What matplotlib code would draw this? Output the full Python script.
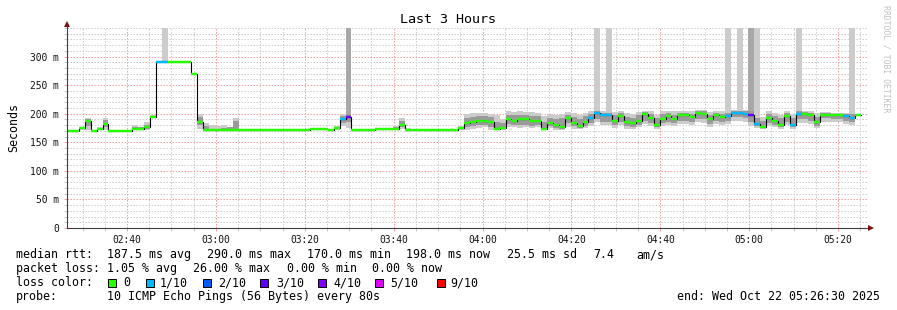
import numpy as np
import matplotlib
matplotlib.use("Agg")
import matplotlib.pyplot as plt
from matplotlib.patches import Rectangle

W, H = 897, 310
FONT = "DejaVu Sans Mono"

# ---------------- data ----------------
start_time = "02:26:30"
end_time = "05:26:30"
step_seconds = 80

nan = float("nan")
median_ms = [
    170, 170, 175, 187, 170, 174, 182, 170, 170, 170,
    170, 173, 174, 176, 195, 290, 290, 290, 290, 290,
    290, 270, 186, 171, 171, 171, 171, 171, 171, 171,
    171, 171, 171, 171, 171, 171, 171, 171, 171, 171,
    171, 174, 174, 174, 172, 175, 191, 194, 171, 171,
    171, 171, 173, 173, 173, 174, 180, 172, 172, 172,
    172, 172, 172, 172, 172, 172, 175, 183, 185, 187,
    188, 185, 174, 175, 190, 188, 190, 190, 188, 187,
    174, 183, 180, 176, 192, 184, 178, 186, 192, 202,
    197, 197, 188, 196, 185, 183, 188, 199, 193, 181,
    191, 196, 190, 198, 198, 194, 201, 200, 190, 198,
    194, 196, 202, 202, 200, 197, 182, 177, 193, 188,
    180, 196, 181, 200, 200, 198, 185, 198, 198, 197,
    197, 196, 192, 198, nan,
]

loss_tenths = [
    0, 0, 0, 0, 0, 0, 0, 0, 0, 0,
    0, 0, 0, 0, 0, 1, 1, 0, 0, 0,
    0, 0, 0, 0, 0, 0, 0, 0, 0, 0,
    0, 0, 0, 0, 0, 0, 0, 0, 0, 0,
    0, 0, 0, 0, 0, 0, 1, 3, 0, 0,
    0, 0, 0, 0, 0, 0, 0, 0, 0, 0,
    0, 0, 0, 0, 0, 0, 0, 0, 0, 0,
    0, 0, 0, 0, 0, 0, 0, 0, 0, 0,
    0, 0, 0, 0, 0, 0, 0, 0, 1, 1,
    1, 1, 0, 0, 0, 0, 0, 0, 0, 0,
    0, 0, 0, 0, 0, 0, 0, 0, 0, 0,
    0, 1, 1, 1, 1, 3, 1, 0, 0, 0,
    0, 0, 1, 1, 0, 0, 0, 0, 0, 0,
    0, 1, 1, 0, 0,
]

smoke_outer_lo = [
    170, 170, 172, 171, 170, 172, 172, 170, 170, 170,
    170, 171, 172, 172, 193, 290, 290, 290, 290, 290,
    290, 270, 174, 171, 171, 171, 171, 171, 171, 171,
    171, 171, 171, 171, 171, 171, 171, 171, 171, 171,
    171, 174, 174, 174, 172, 172, 178, 175, 171, 171,
    171, 171, 173, 173, 173, 172, 174, 171, 172, 172,
    172, 172, 172, 172, 172, 172, 172, 172, 174, 175,
    176, 172, 171, 172, 177, 176, 175, 176, 175, 176,
    172, 175, 172, 172, 176, 174, 173, 175, 178, 185,
    180, 180, 175, 180, 174, 173, 176, 182, 178, 173,
    178, 180, 178, 182, 182, 180, 185, 184, 177, 182,
    180, 182, 188, 188, 186, 178, 175, 173, 178, 176,
    173, 180, 173, 184, 183, 182, 175, 186, 186, 185,
    185, 182, 180, 182, nan,
]

smoke_outer_hi = [
    170, 170, 176, 192, 170, 176, 192, 170, 170, 170,
    170, 180, 177, 185, 197, 290, 400, 290, 290, 290,
    290, 270, 200, 183, 180, 179, 180, 177, 192, 171,
    171, 171, 171, 171, 171, 171, 171, 171, 171, 171,
    171, 174, 174, 174, 172, 178, 199, 400, 171, 171,
    171, 171, 173, 173, 173, 178, 193, 175, 172, 172,
    172, 172, 172, 172, 172, 172, 179, 200, 202, 202,
    202, 200, 198, 190, 204, 203, 204, 203, 203, 202,
    196, 200, 198, 200, 203, 202, 198, 202, 205, 400,
    205, 400, 203, 205, 202, 200, 203, 205, 204, 198,
    204, 205, 204, 205, 205, 204, 206, 206, 203, 205,
    204, 400, 206, 400, 206, 400, 400, 195, 204, 202,
    198, 205, 200, 400, 205, 205, 202, 203, 203, 202,
    202, 202, 400, 204, nan,
]

smoke_inner_lo = [
    170, 170, 174, 178, 170, 173, 176, 170, 170, 170,
    170, 172, 173, 174, 194, 290, 290, 290, 290, 290,
    290, 270, 180, 171, 171, 171, 171, 171, 172, 171,
    171, 171, 171, 171, 171, 171, 171, 171, 171, 171,
    171, 174, 174, 174, 172, 174, 183, 186, 171, 171,
    171, 171, 173, 173, 173, 173, 176, 171, 172, 172,
    172, 172, 172, 172, 172, 172, 173, 176, 178, 180,
    181, 177, 172, 173, 182, 180, 181, 180, 179, 180,
    173, 178, 175, 174, 183, 178, 175, 179, 184, 190,
    186, 186, 180, 186, 178, 176, 180, 188, 184, 176,
    183, 186, 183, 188, 188, 186, 190, 190, 182, 188,
    186, 188, 194, 194, 192, 185, 178, 175, 184, 180,
    176, 186, 176, 190, 190, 188, 179, 192, 192, 191,
    191, 188, 185, 188, nan,
]

smoke_inner_hi = [
    170, 170, 175, 190, 170, 175, 189, 170, 170, 170,
    170, 176, 176, 181, 196, 290, 290, 290, 290, 290,
    290, 270, 195, 179, 174, 173, 175, 176, 188, 171,
    171, 171, 171, 171, 171, 171, 171, 171, 171, 171,
    171, 174, 174, 174, 172, 177, 196, 200, 171, 171,
    171, 171, 173, 173, 173, 176, 187, 173, 172, 172,
    172, 172, 172, 172, 172, 172, 177, 192, 194, 196,
    196, 194, 186, 183, 198, 197, 198, 197, 196, 196,
    186, 192, 190, 192, 198, 195, 190, 196, 200, 205,
    201, 202, 197, 201, 195, 193, 197, 203, 200, 192,
    199, 201, 198, 202, 202, 200, 204, 204, 198, 202,
    200, 202, 205, 205, 204, 204, 192, 188, 200, 196,
    192, 201, 192, 204, 203, 202, 195, 201, 201, 200,
    200, 200, 199, 202, nan,
]

# steps where most pings were far above the graph (denser smoke spike)
dense_spike_steps = [47, 115]

x_tick_labels = ["02:40", "03:00", "03:20", "03:40", "04:00",
                 "04:20", "04:40", "05:00", "05:20"]
y_ticks = [0, 50, 100, 150, 200, 250, 300]
y_tick_labels = ["0", "50 m", "100 m", "150 m", "200 m", "250 m", "300 m"]

loss_labels = ["0", "1/10", "2/10", "3/10", "4/10", "5/10", "9/10"]
loss_level_min = [0, 1, 2, 3, 4, 5, 9]
loss_colors = ["#26ff00", "#00b8ff", "#0059ff", "#5e00ff",
               "#7e00ff", "#dd00ff", "#ff0000"]

title = "Last 3 Hours"
y_label = "Seconds"
rtt_stats = ["187.5 ms avg", "290.0 ms max", "170.0 ms min",
             "198.0 ms now", "25.5 ms sd", "7.4", "am/s"]
loss_stats = ["1.05 % avg", "26.00 % max", "0.00 % min", "0.00 % now"]
probe_text = "10 ICMP Echo Pings (56 Bytes) every 80s"
end_text = "end: Wed Oct 22 05:26:30 2025"
watermark = "RRDTOOL / TOBI OETIKER"

# ---------------- helpers ----------------
def tsec(s):
    h, m, sec = (int(v) for v in s.split(":"))
    return h * 3600 + m * 60 + sec

t0, t1 = tsec(start_time), tsec(end_time)
med = np.array(median_ms, dtype=float)
n = len(med)
edges = t0 + np.arange(n + 1) * step_seconds

def ext(a):
    a = np.asarray(a, dtype=float)
    return np.append(a, a[-1])

def loss_color(l):
    c = loss_colors[0]
    for lv, col in zip(loss_level_min, loss_colors):
        if l >= lv:
            c = col
    return c

# ---------------- figure ----------------
fig = plt.figure(figsize=(W / 100, H / 100), dpi=100)
fig.patch.set_facecolor("white")
ax_l, ax_b, ax_w, ax_h = 67, 228, 800, 200
ax = fig.add_axes([ax_l / W, 1 - ax_b / H, ax_w / W, ax_h / H])
ax.set_xlim(t0, t1)
ax.set_ylim(0, 350)
for sp in ax.spines.values():
    sp.set_visible(False)

# grid
minor_x = np.arange(tsec("02:30:00"), t1 + 1, 300)
major_x = np.array([tsec(s + ":00") for s in x_tick_labels])
ax.set_xticks(major_x)
ax.set_xticklabels(x_tick_labels, fontfamily=FONT, fontsize=6.9)
ax.set_xticks(minor_x, minor=True)
ax.set_yticks(y_ticks)
ax.set_yticklabels(y_tick_labels, fontfamily=FONT, fontsize=6.9)
ax.set_yticks(np.arange(0, 351, 10), minor=True)
dash = (0, (1.5, 1.5))
ax.grid(which="minor", color="#cfcfcf", lw=0.72, linestyle=dash)
ax.grid(which="major", color="#f2a0a0", lw=0.72, linestyle=dash)
ax.set_axisbelow(True)
ax.tick_params(which="major", length=2, width=0.72, color="#f2a0a0", pad=3.2,
               labelcolor="#111111")
ax.tick_params(which="minor", length=2, width=0.72, color="#c8c8c8")
ax.tick_params(axis="y", which="major", pad=4.0)

# smoke
ax.fill_between(edges, ext(smoke_outer_lo), ext(smoke_outer_hi), step="post",
                color="#cccccc", lw=0, zorder=2)
for s in dense_spike_steps:
    ax.fill_between([edges[s], edges[s + 1]], med[s], 400, color="#a8a8a8",
                    lw=0, zorder=2.5)
ax.fill_between(edges, ext(smoke_inner_lo), ext(smoke_inner_hi), step="post",
                color="#9a9a9a", lw=0, zorder=3)

# median line (black) and loss-coloured median bars
ax.step(edges, ext(med), where="post", color="black", lw=0.8, zorder=4)
cols = [loss_color(l) for l in loss_tenths]
ax.hlines(med, edges[:-1], edges[1:], colors=cols, lw=1.75, zorder=5)

# axis lines with arrows
axc = "#404040"
ax.plot([0, 1 + 2 / 800], [0, 0], transform=ax.transAxes, color=axc, lw=0.8,
        clip_on=False, zorder=6)
ax.plot([0, 0], [0, 1 + 3 / 200], transform=ax.transAxes, color=axc, lw=0.8,
        clip_on=False, zorder=6)
ax.plot([1 + 4 / 800], [0], marker=">", color="#7a1010", ms=4,
        transform=ax.transAxes, clip_on=False, zorder=7, mew=0)
ax.plot([0], [1 + 4.5 / 200], marker="^", color="#7a1010", ms=4,
        transform=ax.transAxes, clip_on=False, zorder=7, mew=0)

# ---------------- texts ----------------
def ftext(x, y, s, **kw):
    kw.setdefault("fontfamily", FONT)
    kw.setdefault("fontsize", 8.35)
    kw.setdefault("va", "baseline")
    kw.setdefault("color", "black")
    fig.text(x / W, 1 - y / H, s, **kw)

ftext(448, 23, title, ha="center", fontsize=9.6)
ftext(14, 128, y_label, ha="center", va="center", rotation=90)
ftext(886, 5, watermark, ha="center", va="top", rotation=270, fontsize=5.9,
      color="#c0c0c0")

ftext(16, 258, "median rtt:")
for x, s in zip([107, 207, 307, 406, 507, 593, 636], rtt_stats):
    ftext(x, 258, s)

ftext(16, 272, "packet loss:")
for x, s in zip([107, 193, 287, 372], loss_stats):
    ftext(x, 272, s)

ftext(16, 286, "loss color:")
box_x = [108, 146, 203, 260, 318, 375, 437]
lab_x = [123, 160, 218, 276, 333, 390, 450]
for bx, lx, lab, col in zip(box_x, lab_x, loss_labels, loss_colors):
    fig.add_artist(Rectangle((bx / W, 1 - 286.5 / H), 8 / W, 8 / H,
                             transform=fig.transFigure, facecolor=col,
                             edgecolor="black", lw=0.7))
    ftext(lx, 286, lab)

ftext(16, 300, "probe:")
ftext(107, 300, probe_text)
ftext(880, 300, end_text, ha="right")

fig.savefig("out.png", dpi=100, facecolor="white")
